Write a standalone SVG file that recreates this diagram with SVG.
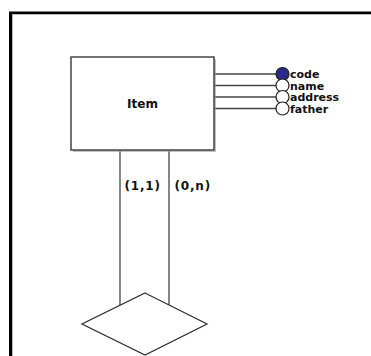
<svg xmlns="http://www.w3.org/2000/svg" width="371" height="356" viewBox="0 0 371 356">
  <style>
    .lbl { font-family: "DejaVu Sans", Verdana, sans-serif; font-weight: bold; font-size: 11px; fill: #111; }
    .title { font-size: 12px; }
    .card { font-size: 12px; letter-spacing: 0.8px; }
    .wire { stroke: #444; stroke-width: 1.3; fill: none; }
    .attr { stroke: #222; stroke-width: 1.2; fill: #fff; }
    .key { fill: #2a2a8c; }
  </style>
  <rect width="371" height="356" fill="#fff"/>
  <!-- window frame: only top and left edges visible -->
  <path d="M10.5 356 V13 H371" fill="none" stroke="#000" stroke-width="3"/>
  <path d="M12.5 356 V14.5 H371" fill="none" stroke="#bbb" stroke-width="1"/>

  <g id="connectors">
    <line class="wire" x1="214" y1="74" x2="276" y2="74"/>
    <line class="wire" x1="214" y1="85.5" x2="276" y2="85.5"/>
    <line class="wire" x1="214" y1="97" x2="276" y2="97"/>
    <line class="wire" x1="214" y1="108.5" x2="276" y2="108.5"/>
    <line class="wire" x1="120" y1="151" x2="120" y2="305"/>
    <line class="wire" x1="169" y1="151" x2="169" y2="305"/>
  </g>

  <g id="item">
    <rect x="73" y="59" width="143" height="93" fill="#999" opacity="0.6"/>
    <rect x="71" y="57" width="143" height="93" fill="#fff" stroke="#444" stroke-width="1.5"/>
    <text class="lbl title" x="142.5" y="108" text-anchor="middle">Item</text>
  </g>

  <g id="attr-code">
    <circle class="attr key" cx="282.5" cy="74" r="6.5"/>
    <text class="lbl" x="290" y="78">code</text>
  </g>
  <g id="attr-name">
    <circle class="attr" cx="282.5" cy="85.5" r="6.5"/>
    <text class="lbl" x="290" y="89.5">name</text>
  </g>
  <g id="attr-address">
    <circle class="attr" cx="282.5" cy="97" r="6.5"/>
    <text class="lbl" x="290" y="101">address</text>
  </g>
  <g id="attr-father">
    <circle class="attr" cx="282.5" cy="108.5" r="6.5"/>
    <text class="lbl" x="290" y="112.5">father</text>
  </g>

  <g id="card-1-1">
    <text class="lbl card" x="124.5" y="190">(1,1)</text>
  </g>
  <g id="card-0-n">
    <text class="lbl card" x="174.5" y="190">(0,n)</text>
  </g>

  <g id="relationship">
    <polygon points="145,293 207,324 145,355 82,324" fill="#fff" stroke="#333" stroke-width="1.3"/>
  </g>
</svg>
